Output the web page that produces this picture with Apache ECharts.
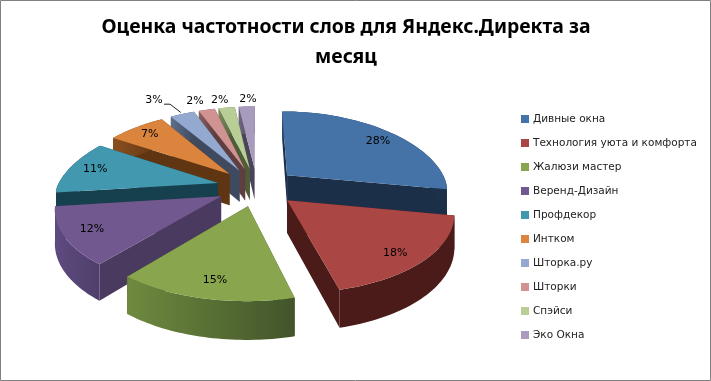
<!DOCTYPE html>
<html>
<head>
<meta charset="utf-8">
<title>Оценка частотности слов</title>
<style>
html, body { margin: 0; padding: 0; background: #fff; }
#chart { width: 711px; height: 381px; }
</style>
<script src="https://cdn.jsdelivr.net/npm/echarts@6/dist/echarts.min.js"></script>
</head>
<body>
<div id="chart"></div>
<script>
var chartTitle = 'Оценка частотности слов для Яндекс.Директа за\nмесяц';
var names = ['Дивные окна', 'Технология уюта и комфорта', 'Жалюзи мастер', 'Веренд-Дизайн', 'Профдекор', 'Интком', 'Шторка.ру', 'Шторки', 'Спэйси', 'Эко Окна'];
var shares = [28, 18, 15, 12, 11, 7, 3, 2, 2, 2];

// excel 2007 palette: top face, radial face, arc gradient left/right
var topColors = ['#4572A7', '#AA4643', '#89A54E', '#71588F', '#4198AF', '#DB843D', '#93A9CF', '#D19392', '#B9CD96', '#A99BBD'];
var faceColors = ['#1B2F48', '#4A1B18', '#45562A', '#4A3A60', '#17404E', '#5F3512', '#3F4A5E', '#5F3E40', '#4E5C38', '#4A4458'];
var arcLeft = ['#2A4A70', '#4A1B18', '#6F8A3F', '#5E4A80', '#17404E', '#8A4F20', '#5F6E8A', '#8A5F60', '#7A8A5F', '#6F6580'];
var arcRight = ['#1B2F48', '#4A1B18', '#42542A', '#4F3F6B', '#17404E', '#5F3512', '#3F4A5E', '#5F3E40', '#4E5C38', '#4A4458'];
var labelRadius = [0.72, 0.85, 0.88, 0.87, 0.8, 0.78, 1.26, 1.12, 1.1, 1.14];
var labelNudge = [[14, -3], [-6, 2], [5, -6], [6, -2], [-4, -1], [-5, -3], [-16, -1], [-8, -2], [-5, -2], [2, 0]];

// projection of the tilted pie
var cx = 257, cy = 187, scaleX = 161, scaleY = 75.8, tilt = 0.14, backTilt = 0.2, depth = 32, explode = 0.25;
var DEG = Math.PI / 180;

var total = shares.reduce(function(a, b) { return a + b; }, 0);
var starts = [];
shares.reduce(function(acc, v, i) { starts[i] = acc; return acc + v / total * 360; }, 0);

function project(x, y, low) {
	var w = 1 - tilt * y;
	// the far half narrows faster than the near half grows
	var wx = 1 - (y < 0 ? backTilt : tilt) * y;
	return [cx + scaleX * x / wx, cy + scaleY * y / w + (low ? depth / w : 0)];
}
function wedgePoint(i, angle, r, low) {
	var mid = (starts[i] + shares[i] / total * 180) * DEG;
	var x = explode * Math.sin(mid) + r * Math.sin(angle * DEG);
	var y = -explode * Math.cos(mid) - r * Math.cos(angle * DEG);
	return project(x, y, low);
}

function renderSlice(i) {
	return function(params, api) {
		var from = starts[i], to = from + api.value(0) / total * 360;
		var arc = [], arcLow = [], a;
		for (a = 0; a <= 40; a++) {
			var ang = from + (to - from) * a / 40;
			arc.push(wedgePoint(i, ang, 1, false));
			arcLow.unshift(wedgePoint(i, ang, 1, true));
		}
		var apex = wedgePoint(i, 0, 0, false), apexLow = wedgePoint(i, 0, 0, true);
		var first = arc[0], last = arc[arc.length - 1];
		var firstLow = arcLow[arcLow.length - 1], lastLow = arcLow[0];
		var kids = [
			{ type: 'polygon', shape: { points: [apex, first, firstLow, apexLow] }, style: { fill: faceColors[i] } },
			{ type: 'polygon', shape: { points: [apex, last, lastLow, apexLow] }, style: { fill: faceColors[i] } },
			{ type: 'polygon', shape: { points: arc.concat(arcLow) }, style: {
				fill: new echarts.graphic.LinearGradient(0, 0, 1, 0, [
					{ offset: 0, color: arcLeft[i] }, { offset: 1, color: arcRight[i] }
				])
			} },
			{ type: 'polygon', shape: { points: [apex].concat(arc) }, style: { fill: topColors[i] } }
		];
		var labelAt = wedgePoint(i, (from + to) / 2, labelRadius[i], false);
		labelAt = [labelAt[0] + labelNudge[i][0], labelAt[1] + labelNudge[i][1]];
		kids.push({ type: 'text', style: {
			x: labelAt[0], y: labelAt[1], text: api.value(0) + '%', fill: '#000',
			font: '11px "DejaVu Sans"', textAlign: 'center', textVerticalAlign: 'middle'
		} });
		if (i === 6) { // only Шторка.ру has a leader line
			var tip = wedgePoint(i, (from + to) / 2, 1.03, false);
			kids.push({ type: 'polyline', shape: { points: [[labelAt[0] + 10, labelAt[1] + 4], [labelAt[0] + 16, labelAt[1] + 4], tip] },
				style: { stroke: '#222', lineWidth: 1, fill: null } });
		}
		return { type: 'group', children: kids };
	};
}

var drawOrder = names.map(function(n, i) { return i; }).sort(function(p, q) {
	return wedgePoint(p, starts[p] + shares[p] / total * 180, 0.6)[1] - wedgePoint(q, starts[q] + shares[q] / total * 180, 0.6)[1];
});

var series = names.map(function(name, i) {
	return {
		name: name,
		type: 'custom',
		coordinateSystem: 'none',
		renderItem: renderSlice(i),
		data: [[shares[i]]],
		itemStyle: { color: topColors[i] },
		z: 2 + drawOrder.indexOf(i),
		silent: true,
		animation: false
	};
});

var myChart = echarts.init(document.getElementById('chart'), null, { renderer: 'canvas' });
myChart.setOption({
	backgroundColor: '#fff',
	animation: false,
	title: {
		text: chartTitle,
		left: 341,
		top: 7,
		textAlign: 'center',
		textStyle: { fontFamily: 'Noto Sans', fontWeight: 'bold', fontSize: 19.4, lineHeight: 30, color: '#000' }
	},
	legend: {
		orient: 'vertical',
		left: 521,
		top: 112,
		icon: 'rect',
		itemWidth: 8,
		itemHeight: 8,
		itemGap: 10,
		padding: 0,
		selectedMode: false,
		data: names,
		textStyle: { fontFamily: 'DejaVu Sans', fontSize: 10.5, lineHeight: 14, color: '#222', padding: [0, 0, 0, -1] }
	},
	graphic: [{
		type: 'rect', silent: true, z: 0,
		shape: { x: 0.5, y: 0.5, width: 710, height: 380 },
		style: { fill: null, stroke: '#808080', lineWidth: 1 }
	}],
	series: series
});
</script>
</body>
</html>
